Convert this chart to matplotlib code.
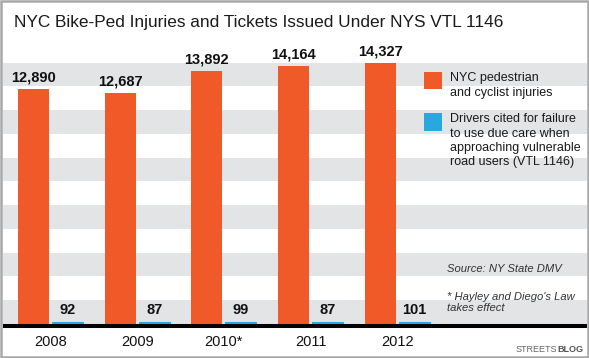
import matplotlib
matplotlib.use("Agg")
import matplotlib.pyplot as plt
from matplotlib.patches import Rectangle
from matplotlib.lines import Line2D
from matplotlib.transforms import blended_transform_factory

years = ["2008", "2009", "2010*", "2011", "2012"]
injuries = [12890, 12687, 13892, 14164, 14327]
tickets = [92, 87, 99, 87, 101]
legend_labels = ["NYC pedestrian\nand cyclist injuries",
                 "Drivers cited for failure\nto use due care when\napproaching vulnerable\nroad users (VTL 1146)"]
title = "NYC Bike-Ped Injuries and Tickets Issued Under NYS VTL 1146"

ORANGE = "#F05A28"
BLUE = "#29A8E0"
BAND = "#E3E4E6"
BORDER = "#A8A8A8"

plt.rcParams['font.family'] = ['Liberation Sans', 'DejaVu Sans']

W, H = 589, 358
fig = plt.figure(figsize=(W / 100, H / 100), dpi=100)
fig.patch.set_facecolor("white")

def fx(px):
    return px / W

def fy(py):
    return 1 - py / H

ax_top, ax_bot = 62.7, 324
ax = fig.add_axes([fx(3), fy(ax_bot), fx(584), (ax_bot - ax_top) / H])
ax.set_facecolor("white")
for s in ax.spines.values():
    s.set_visible(False)

# alternating bands
nb = 11
for i in range(nb):
    if i % 2 == 0:
        ax.add_patch(Rectangle((0, 1 - (i + 1) / nb), 1, 1 / nb, transform=ax.transAxes,
                               facecolor=BAND, edgecolor="none", zorder=0))

x = list(range(len(years)))
off = 0.196
bw = 0.3575
xo = [v - off for v in x]
xb = [v + off for v in x]
ax.bar(xo, injuries, width=bw, color=ORANGE, zorder=2)
ax.bar(xb, tickets, width=bw, color=BLUE, edgecolor=BLUE, linewidth=0.8, zorder=2)

ax.set_xlim(-0.548, 6.188)
ax.set_ylim(0, 14360)
ax.set_yticks([])
ax.set_xticks([])

for xi, v in zip(xo, injuries):
    ax.annotate(f"{v:,}", (xi, v), xytext=(0, 3.6), textcoords="offset points",
                ha="center", va="bottom", fontsize=10.5, fontweight="bold", color="#111111", zorder=3)
for xi, v in zip(xb, tickets):
    ax.annotate(f"{v:,}", (xi, v), xytext=(0, 3.6), textcoords="offset points",
                ha="center", va="bottom", fontsize=10.5, fontweight="bold", color="#111111", zorder=3)

tr = blended_transform_factory(ax.transData, fig.transFigure)
for xi, lab in zip(x, years):
    ax.text(xi, fy(342), lab, transform=tr, ha="center", va="center",
            fontsize=10.5, color="#111111")

# axis line
fig.add_artist(Line2D([fx(3), fx(587)], [fy(326), fy(326)], color="black", linewidth=2.9,
                      solid_capstyle="butt"))

# title
fig.text(fx(258.5), fy(23), title, ha="center", va="center", fontsize=12.4, color="#1a1a1a")

# legend
fig.add_artist(Rectangle((fx(424), fy(89)), fx(18), 17 / H, facecolor=ORANGE, edgecolor="none"))
fig.text(fx(450), fy(72.5), legend_labels[0], ha="left", va="top", fontsize=9,
         color="#1a1a1a", linespacing=1.25)
fig.add_artist(Rectangle((fx(424), fy(131)), fx(18), 18 / H, facecolor=BLUE, edgecolor="none"))
fig.text(fx(450), fy(113.5), legend_labels[1], ha="left", va="top", fontsize=9,
         color="#1a1a1a", linespacing=1.25)

# notes
fig.text(fx(447), fy(269), "Source: NY State DMV", ha="left", va="center", fontsize=8.1,
         style="italic", color="#333333")
fig.text(fx(447), fy(292), "* Hayley and Diego's Law\ntakes effect", ha="left", va="top",
         fontsize=8.1, style="italic", color="#333333", linespacing=1.15)

# branding
t1 = fig.text(fx(516), fy(349), "STREETS", ha="left", va="center", fontsize=6.5, color="#666666")
fig.canvas.draw()
bb = t1.get_window_extent()
fig.text(bb.x1 / W, fy(349), "BLOG", ha="left", va="center", fontsize=6.5,
         fontweight="bold", color="#555555")

# border
fig.add_artist(Rectangle((fx(1.25), 1.25 / H), 1 - fx(2.5), 1 - 2.5 / H, fill=False,
                         edgecolor=BORDER, linewidth=1.8))

fig.savefig("out.png", dpi=100)
